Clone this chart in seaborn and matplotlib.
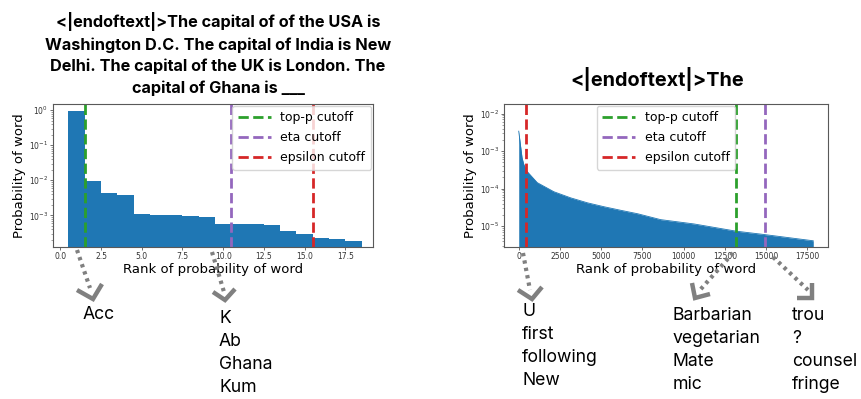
import numpy as np
import matplotlib
matplotlib.use("Agg")
import matplotlib.pyplot as plt
from matplotlib.lines import Line2D
import seaborn as sns

# left panel: probability of each ranked word (Ghana prompt)
left_ranks = list(range(1, 19))
left_probs = [0.95, 0.0095, 0.0044, 0.0039, 0.0011, 0.00105, 0.001, 0.00097,
              0.00087, 0.00058, 0.00056, 0.00055, 0.00053, 0.00035, 0.00029,
              0.00022, 0.00021, 0.00018]
left_cutoffs = {"top-p cutoff": 1.5, "eta cutoff": 10.5, "epsilon cutoff": 15.5}

# right panel: sampled points along the rank/probability curve
right_ranks = [0, 100, 200, 300, 470, 1120, 2130, 3150, 4170, 5180, 6200,
               7210, 8600, 10630, 13170, 14900, 17850]
right_probs = [3.4e-3, 1.5e-3, 6.7e-4, 4.5e-4, 3.0e-4, 1.45e-4, 8.3e-5, 5.7e-5,
               4.2e-5, 3.3e-5, 2.65e-5, 2.15e-5, 1.5e-5, 1.15e-5, 7.4e-6,
               6.0e-6, 4.1e-6]
right_cutoffs = {"top-p cutoff": 13170, "eta cutoff": 14900, "epsilon cutoff": 470}

cutoff_colors = {"top-p cutoff": "#2ca02c", "eta cutoff": "#9467bd",
                 "epsilon cutoff": "#d62728"}

left_title = ("<|endoftext|>The capital of of the USA is\n"
              "Washington D.C. The capital of India is New\n"
              "Delhi. The capital of the UK is London. The\n"
              "capital of Ghana is ___")
right_title = "<|endoftext|>The"

left_words = [["Acc"], ["K", "Ab", "Ghana", "Kum"]]
right_words = [["U", "first", "following", "New"],
               ["Barbarian", "vegetarian", "Mate", "mic"],
               ["trou", "?", "counsel", "fringe"]]

W, H = 861, 399
fig = plt.figure(figsize=(W / 100, H / 100), dpi=100)


def px_axes(x0, y0, x1, y1):
    return fig.add_axes([x0 / W, 1 - y1 / H, (x1 - x0) / W, (y1 - y0) / H])


def style_axes(ax):
    ax.set_yscale("log")
    for s in ax.spines.values():
        s.set_color("0.35")
        s.set_linewidth(0.8)
    ax.tick_params(axis="both", which="major", labelsize=5.5, length=2.2,
                   width=0.6, pad=1.5, colors="0.35", labelcolor="0.2")
    ax.tick_params(axis="both", which="minor", length=1.2, width=0.4, colors="0.35")
    ax.set_xlabel("Rank of probability of word", fontsize=9.5, labelpad=1.5)
    ax.set_ylabel("Probability of word", fontsize=9.5, labelpad=2)


ax1 = px_axes(53, 104, 373, 247)
sns.histplot(x=left_ranks, weights=left_probs, discrete=True, ax=ax1,
             color="#1f77b4", alpha=1, linewidth=0)
style_axes(ax1)
for name, pos in left_cutoffs.items():
    ax1.axvline(pos, color=cutoff_colors[name], ls="--", lw=2, label=name)
ax1.set_xlim(-0.45, 19.2)
ax1.set_ylim(1.25e-4, 1.5)
ax1.legend(loc="upper right", fontsize=9, handlelength=2.6, borderpad=0.45,
           labelspacing=0.55, borderaxespad=0.15)

ax2 = px_axes(504, 104, 828, 247)
sns.lineplot(x=right_ranks, y=right_probs, ax=ax2, color="#1f77b4", lw=0.6)
ax2.fill_between(right_ranks, right_probs, 1e-9, color="#1f77b4", lw=0)
style_axes(ax2)
for name, pos in right_cutoffs.items():
    ax2.axvline(pos, color=cutoff_colors[name], ls="--", lw=2, label=name)
ax2.set_ylim(2.8e-6, 1.8e-2)
ax2.legend(loc="upper center", fontsize=9, handlelength=2.6, borderpad=0.45,
           labelspacing=0.55, borderaxespad=0.15)

# titles
fig.text(218 / W, 1 - 54 / H, left_title, ha="center", va="center",
         family="Inter", weight="bold", fontsize=11.7, linespacing=1.5)
fig.text(657 / W, 1 - 79 / H, right_title, ha="center", va="center",
         family="Inter", weight="bold", fontsize=14.3)

# word lists under the arrows
word_pos = [(83, 306), (219, 310), (522, 303), (673, 307), (792, 307)]
for (x, y), words in zip(word_pos, left_words + right_words):
    fig.text(x / W, 1 - y / H, "\n".join(words), ha="left", va="top",
             family="Inter", fontsize=12.7, linespacing=1.45)

# dotted arrows from the axis down to the word lists
arrows = [
    ((77, 250), (90, 288), [(77, 290), (93, 299), (102, 284)]),
    ((212, 252), (224, 292), [(213, 292), (225, 300), (235, 289)]),
    ((523, 253), (530, 290), [(518, 290), (532, 299), (542, 287)]),
    ((733, 253), (700, 290), [(692, 283), (695, 298), (710, 294)]),
    ((773, 257), (808, 290), [(797, 298), (812, 298), (812, 283)]),
]
for (xa, ya), (xb, yb), head in arrows:
    fig.add_artist(Line2D([xa / W, xb / W], [1 - ya / H, 1 - yb / H],
                          color="0.5", lw=3, ls=(0, (0.8, 1.0)),
                          transform=fig.transFigure))
    hx = [p[0] / W for p in head]
    hy = [1 - p[1] / H for p in head]
    fig.add_artist(Line2D(hx, hy, color="0.5", lw=3.2, solid_joinstyle="miter",
                          solid_capstyle="butt", transform=fig.transFigure))

fig.savefig("out.png", dpi=100)
